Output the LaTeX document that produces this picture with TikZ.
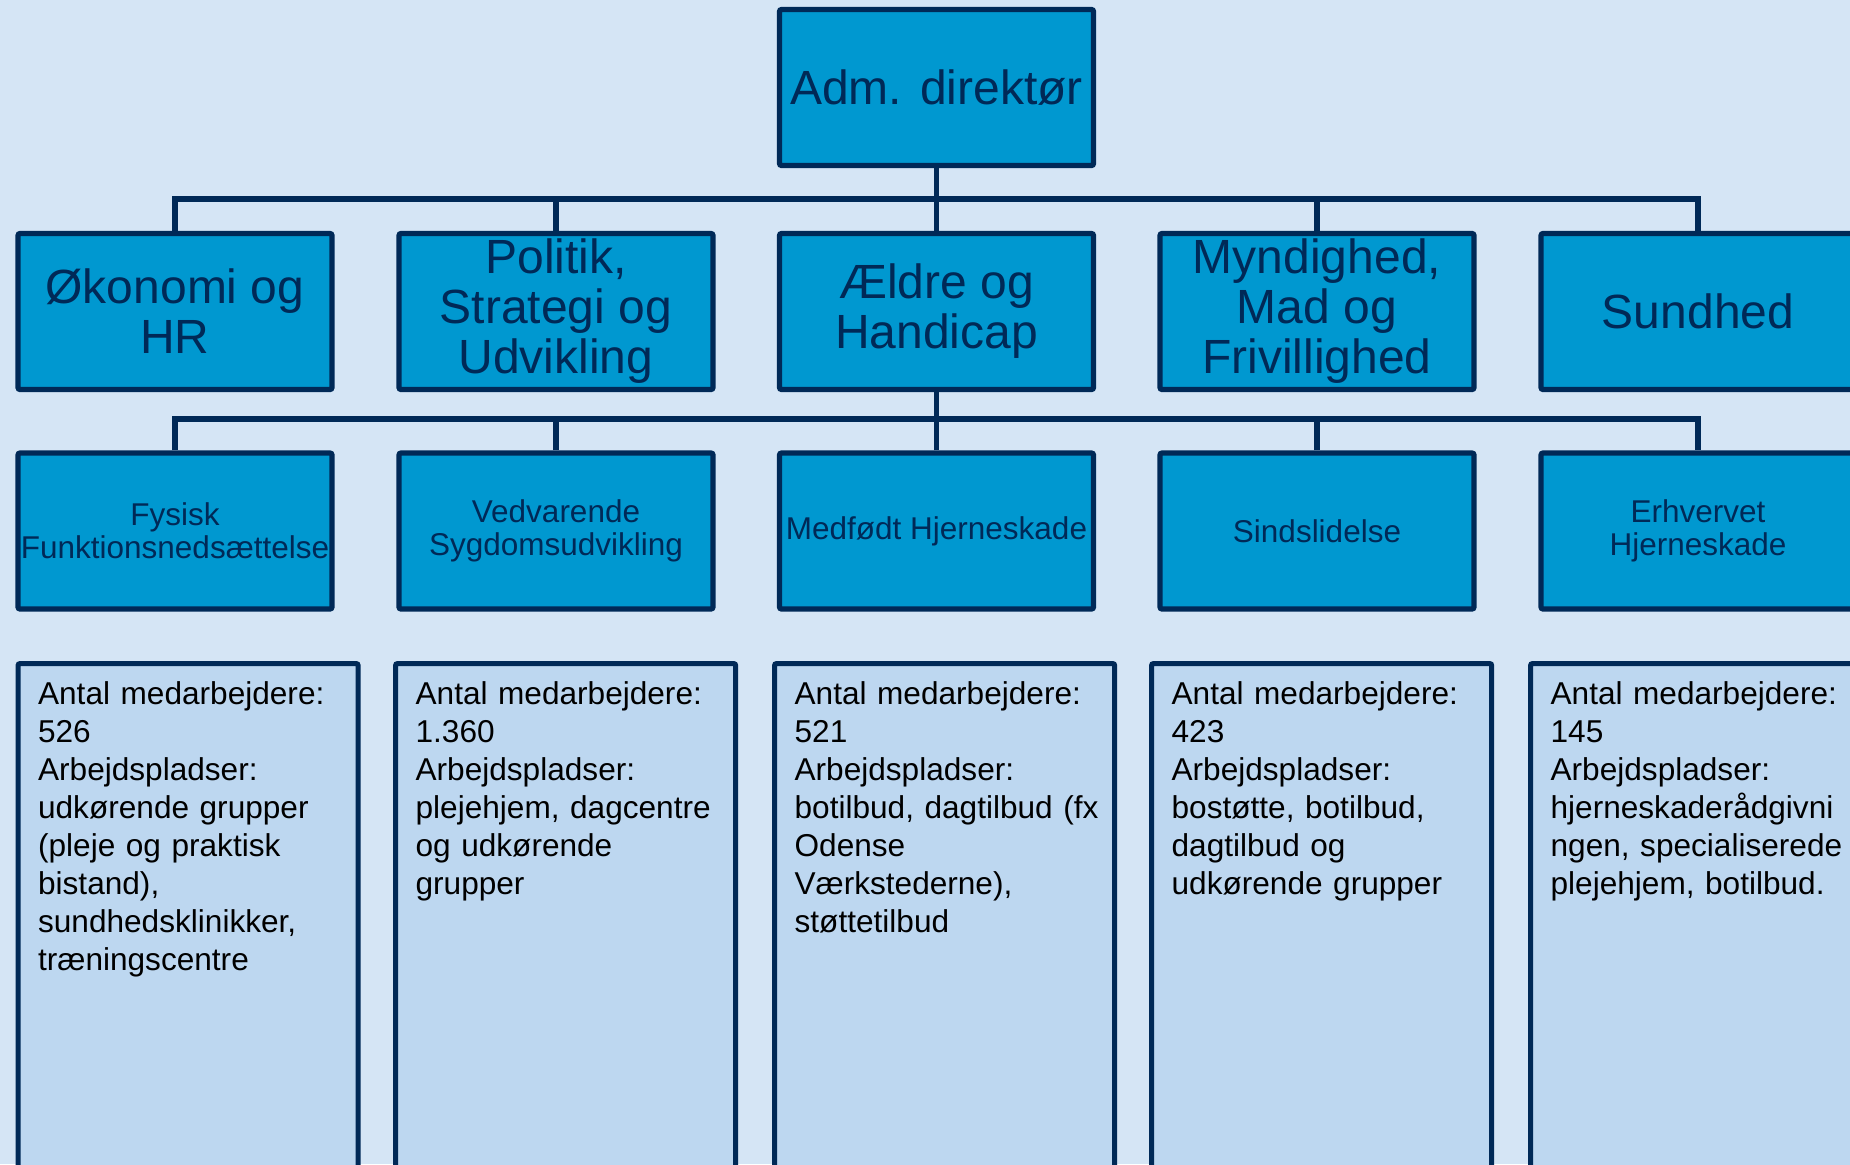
\documentclass[tikz,border=0pt]{standalone}
\usepackage{fontspec}
\setmainfont{Liberation Sans}
\usetikzlibrary{positioning}
\definecolor{bgblue}{RGB}{213,229,245}
\definecolor{boxblue}{RGB}{0,152,208}
\definecolor{navy}{RGB}{0,41,87}
\definecolor{infoblue}{RGB}{189,215,240}

\begin{document}
\begin{tikzpicture}[x=0.5pt,y=-0.5pt,
    unit/.style={draw=navy, fill=boxblue, line width=2.6pt, rectangle,
      rounded corners=1pt, minimum width=157pt, minimum height=78pt,
      align=center, text=navy, inner sep=1pt},
    bigtext/.style={font=\fontsize{24}{25}\selectfont},
    smalltext/.style={font=\fontsize{15.75}{16.5}\selectfont},
    info/.style={draw=navy, fill=infoblue, line width=2.6pt, rectangle,
      rounded corners=1pt, anchor=north west, align=left, text=black,
      text width=150pt, inner xsep=10pt, inner ysep=8pt,
      text height=12.5pt, text depth=300pt,
      font=\fontsize{15.8}{19}\selectfont},
    conn/.style={draw=navy, line width=2.6pt}]

  \clip (0,0) rectangle (1850,1164);
  \fill[bgblue] (0,0) rectangle (1850,1164);

  % top
  \node[unit, bigtext] (dir) at (936.5,87.5) {Adm. direktør};

  % second row
  \node[unit, bigtext] (oek) at (175,311.5) {Økonomi og\\HR};
  \node[unit, bigtext] (pol) at (556,311.5) {Politik,\\Strategi og\\Udvikling};
  \node[unit, bigtext] (aeh) at (936.5,311.5) {Ældre og\\Handicap};
  \node[unit, bigtext] (myn) at (1317,311.5) {Myndighed,\\Mad og\\Frivillighed};
  \node[unit, bigtext] (sund) at (1698,311.5) {Sundhed};

  % third row
  \node[unit, smalltext] (fys) at (175,531) {Fysisk\\Funktionsnedsættelse};
  \node[unit, smalltext] (ved) at (556,531) {Vedvarende\\Sygdomsudvikling};
  \node[unit, smalltext] (med) at (936.5,531) {Medfødt Hjerneskade};
  \node[unit, smalltext] (sind) at (1317,531) {Sindslidelse};
  \node[unit, smalltext] (erh) at (1698,531) {Erhvervet\\Hjerneskade};

  \coordinate (bus1) at (936.5,199);
  \coordinate (bus2) at (936.5,419);

  \draw[conn] (dir) -- (aeh);
  \draw[conn] (oek.north) |- (bus1) -| (sund.north);
  \draw[conn] (pol.north) -- (pol.north |- bus1);
  \draw[conn] (myn.north) -- (myn.north |- bus1);

  \draw[conn] (aeh.south) -- (bus2);
  \draw[conn] (fys.north) |- (bus2) -| (erh.north);
  \draw[conn] (ved.north) -- (ved.north |- bus2);
  \draw[conn] (med.north) -- (med.north |- bus2);
  \draw[conn] (sind.north) -- (sind.north |- bus2);

  % info boxes
  \node[info] (fysinfo) at (15.5,661) {Antal medarbejdere:\\526\\Arbejdspladser:\\udkørende grupper\\(pleje og praktisk\\bistand),\\sundhedsklinikker,\\træningscentre};
  \node[info] (vedinfo) at (393,661) {Antal medarbejdere:\\1.360\\Arbejdspladser:\\plejehjem, dagcentre\\og udkørende\\grupper};
  \node[info] (medinfo) at (772,661) {Antal medarbejdere:\\521\\Arbejdspladser:\\\mbox{botilbud, dagtilbud (fx}\\Odense\\Værkstederne),\\støttetilbud};
  \node[info] (sindinfo) at (1149,661) {Antal medarbejdere:\\423\\Arbejdspladser:\\bostøtte, botilbud,\\dagtilbud og\\udkørende grupper};
  \node[info] (erhinfo) at (1528,661) {Antal medarbejdere:\\145\\Arbejdspladser:\\hjerneskaderådgivni\\ngen, specialiserede\\plejehjem, botilbud.};
\end{tikzpicture}
\end{document}
